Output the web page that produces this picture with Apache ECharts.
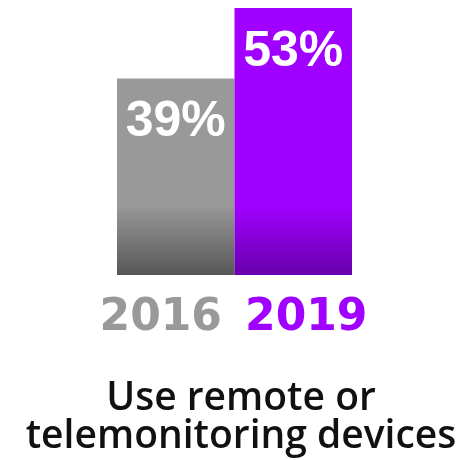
<!DOCTYPE html>
<html><head><meta charset="utf-8">
<script src="https://cdn.jsdelivr.net/npm/echarts@6/dist/echarts.min.js"></script>
<style>html,body{margin:0;padding:0;background:#fff}#c{width:467px;height:460px}</style>
</head><body><div id="c"></div>
<script>
const categories = ['2016', '2019'];
const values = [39, 53];
const valueLabels = ['39%', '53%'];
const caption = 'Use remote or\ntelemonitoring devices';

const topColors = ['#999999', '#a000ff'];
const bottomColors = ['#575757', '#6800ad'];

const chart = echarts.init(document.getElementById('c'));
chart.setOption({
  animation: false,
  backgroundColor: '#ffffff',
  title: {
    text: caption, left: 236, textAlign: 'center', top: 375,
    textStyle: { fontFamily: 'Open Sans', fontWeight: 600, fontSize: 39, lineHeight: 38, color: '#111', align: 'center' }
  },
  grid: { left: 117, width: 235, top: 8, bottom: 185, containLabel: false },
  xAxis: {
    type: 'category', data: categories,
    axisLine: { show: false }, axisTick: { show: false },
    axisLabel: {
      margin: 22,
      formatter: (v, i) => i === 0 ? '{a|' + v + '}' : '{b|' + v + '}',
      rich: {
        a: { fontFamily: 'DejaVu Sans', fontWeight: 'bold', fontSize: 44, color: '#999999', padding: [0, 30, 0, 0] },
        b: { fontFamily: 'DejaVu Sans', fontWeight: 'bold', fontSize: 44, color: '#a000ff', padding: [0, 0, 0, 26] }
      }
    }
  },
  yAxis: { type: 'value', min: 0, max: 53, show: false, splitLine: { show: false } },
  series: [{
    type: 'bar', barWidth: '100%', barCategoryGap: 0,
    data: values.map((v, i) => ({
      value: v,
      itemStyle: {
        color: { type: 'linear', x: 0, y: 205, x2: 0, y2: 275, global: true,
          colorStops: [{ offset: 0, color: topColors[i] }, { offset: 1, color: bottomColors[i] }] }
      },
      label: { formatter: valueLabels[i] }
    })),
    label: {
      show: true, position: 'insideTop', distance: 19,
      fontFamily: 'Liberation Sans', fontWeight: 'bold', fontSize: 50, color: '#ffffff'
    }
  }]
});
</script></body></html>
